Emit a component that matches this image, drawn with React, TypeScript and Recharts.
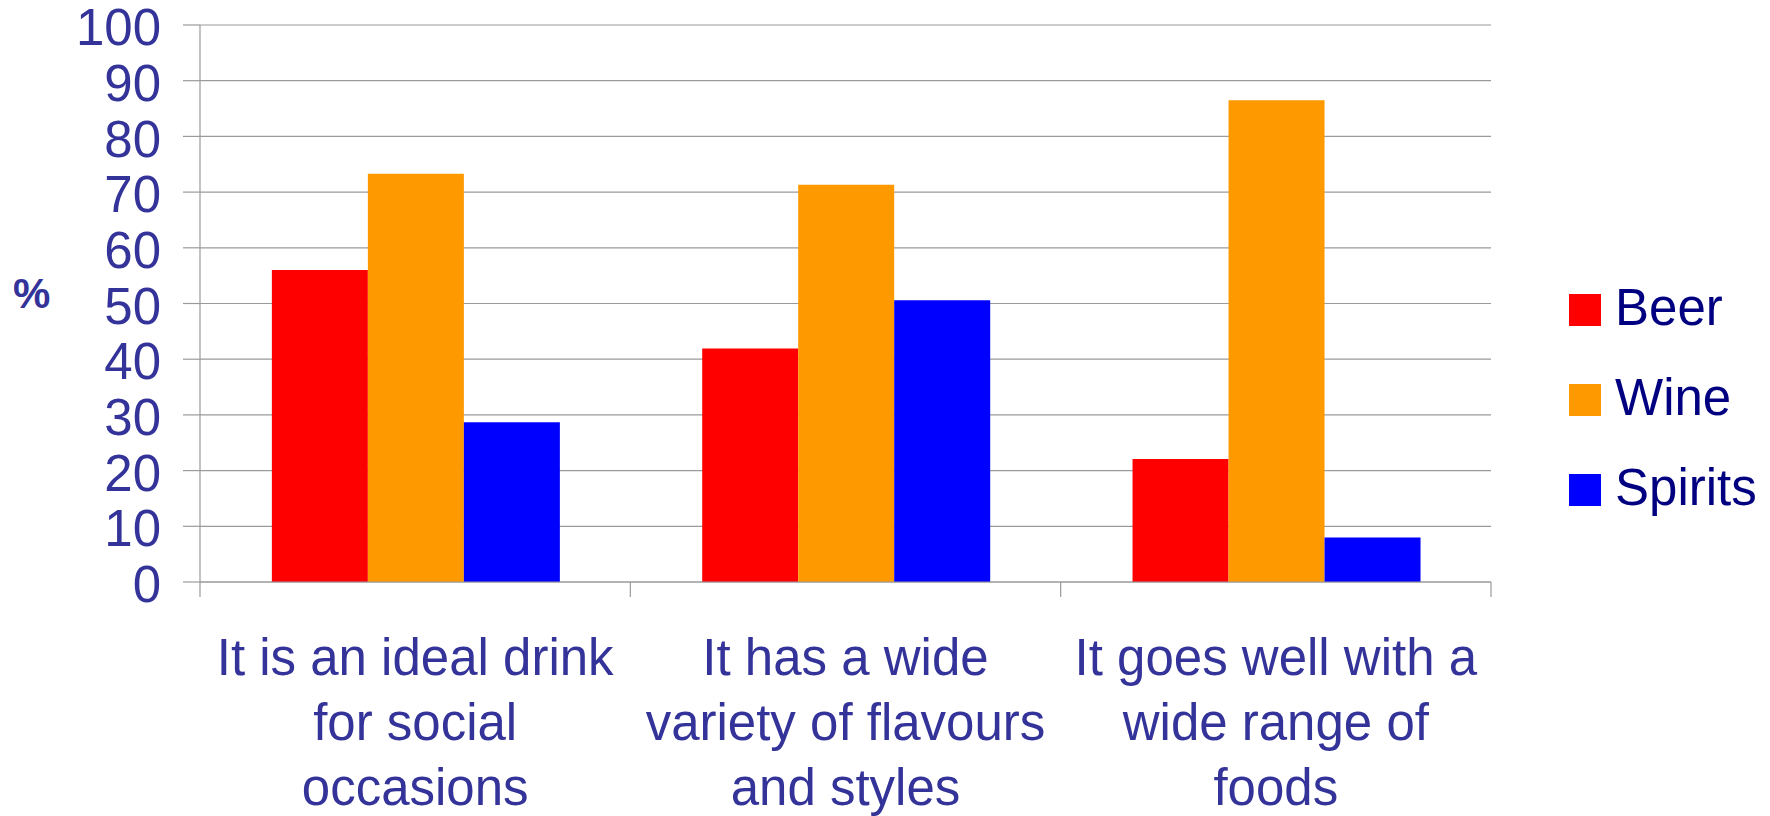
import { BarChart, Bar, XAxis, YAxis, CartesianGrid, Legend } from 'recharts'

// statements shown along the x axis, and how each label wraps
const categories = [
  'It is an ideal drink for social occasions',
  'It has a wide variety of flavours and styles',
  'It goes well with a wide range of foods',
]
const categoryLines = [
  ['It is an ideal drink', 'for social', 'occasions'],
  ['It has a wide', 'variety of flavours', 'and styles'],
  ['It goes well with a', 'wide range of', 'foods'],
]

// % agreeing, per drink
const beer = [56, 41.9, 22.1]
const wine = [73.3, 71.3, 86.5]
const spirits = [28.7, 50.6, 8]

const yTicks = [0, 10, 20, 30, 40, 50, 60, 70, 80, 90, 100]

const series = [
  { key: 'beer', name: 'Beer', color: '#FF0000' },
  { key: 'wine', name: 'Wine', color: '#FF9900' },
  { key: 'spirits', name: 'Spirits', color: '#0000FF' },
]

const data = categories.map((name, i) => ({
  name,
  beer: beer[i],
  wine: wine[i],
  spirits: spirits[i],
}))

const FONT = '"Liberation Sans", Arial, sans-serif'
const AXIS_TEXT = '#333399'
const GRID = '#9a9a9a'

// category label plus the separator ticks at the band edges
function CategoryTick({ x, y, payload, width, visibleTicksCount, index }: any) {
  const lines = categoryLines[payload.index] ?? [String(payload.value)]
  const band = width / (visibleTicksCount || categories.length)
  const isLast = index === (visibleTicksCount || categories.length) - 1
  return (
    <g>
      <line x1={x - band / 2} x2={x - band / 2} y1={y} y2={y + 15} stroke={GRID} strokeWidth={1.2} />
      {isLast && <line x1={x + band / 2} x2={x + band / 2} y1={y} y2={y + 15} stroke={GRID} strokeWidth={1.2} />}
      <text x={x} y={y + 93} textAnchor="middle" fill={AXIS_TEXT} fontSize={51} fontFamily={FONT}>
        {lines.map((line, i) => (
          <tspan key={i} x={x} dy={i === 0 ? 0 : 65}>
            {line}
          </tspan>
        ))}
      </text>
    </g>
  )
}

function LegendBox() {
  return (
    <div style={{ fontFamily: FONT }}>
      {series.map((s) => (
        <div key={s.key} style={{ display: 'flex', alignItems: 'center', height: 90 }}>
          <span style={{ width: 32, height: 32, background: s.color, marginRight: 14, marginTop: 6 }} />
          <span style={{ fontSize: 51, color: '#000080', lineHeight: '51px' }}>{s.name}</span>
        </div>
      ))}
    </div>
  )
}

export default function App() {
  return (
    <div style={{ position: 'absolute', left: 0, top: 0, width: 1770, height: 816, background: '#fff' }}>
      <BarChart
        width={1770}
        height={816}
        data={data}
        margin={{ top: 25, right: 279, bottom: 0, left: 0 }}
        barCategoryGap="16.7%"
        barGap={0}
      >
        <CartesianGrid vertical={false} stroke={GRID} strokeWidth={1.2} />
        <XAxis
          dataKey="name"
          height={234}
          axisLine={{ stroke: GRID, strokeWidth: 1.2 }}
          tickLine={false}
          tickSize={0}
          tickMargin={0}
          interval={0}
          tick={<CategoryTick />}
        />
        <YAxis
          type="number"
          domain={[0, 100]}
          ticks={yTicks}
          interval={0}
          width={200}
          tickSize={17}
          tickMargin={22}
          axisLine={{ stroke: GRID, strokeWidth: 1.2 }}
          tickLine={{ stroke: GRID, strokeWidth: 1.2 }}
          tick={{ fill: AXIS_TEXT, fontSize: 51, fontFamily: FONT, dy: 2 }}
          label={{
            content: (props: any) => {
              const vb = props.viewBox || { x: 0, y: 25, height: 557 }
              return (
                <text
                  x={vb.x + 13}
                  y={vb.y + vb.height / 2 + 4}
                  fill={AXIS_TEXT}
                  fontSize={42}
                  fontWeight="bold"
                  fontFamily={FONT}
                >
                  %
                </text>
              )
            },
          }}
        />
        <Legend
          layout="vertical"
          align="center"
          verticalAlign="middle"
          content={<LegendBox />}
          wrapperStyle={{ left: 1569, top: 262, width: 'auto' }}
        />
        {series.map((s) => (
          <Bar key={s.key} dataKey={s.key} name={s.name} fill={s.color} isAnimationActive={false} />
        ))}
      </BarChart>
    </div>
  )
}
